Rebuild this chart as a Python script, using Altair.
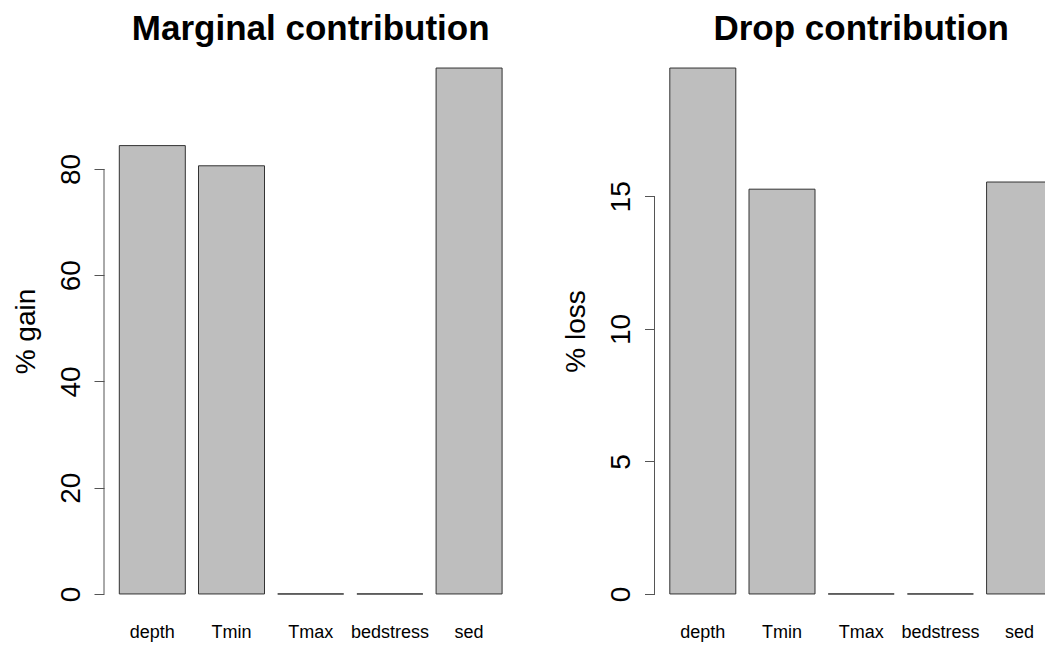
import altair as alt
import pandas as pd

# ---- data ----
variables = ["depth", "Tmin", "Tmax", "bedstress", "sed"]
marginal_gain = [84.4, 80.6, 0.0, 0.0, 99.0]
drop_loss = [19.84, 15.27, 0.0, 0.0, 15.54]
gain_ticks = [0, 20, 40, 60, 80]
loss_ticks = [0, 5, 10, 15]

FONT = "Liberation Sans"
PANEL_H = 568
RANGE_W = 413.4          # full width of the R plot region
LEFT_W = 413.4
RIGHT_W = 390.5          # right panel is cut by the image edge
PAD_INNER = 0.2 / 1.2
PAD_OUTER = 0.19333


def panel(values, ticks, title, ytitle, width, dx):
    df = pd.DataFrame({"var": variables, "value": values})
    vmax = max(values)
    yscale = alt.Scale(domain=[-0.04 * vmax, 1.04 * vmax], nice=False, zero=False)
    xscale = alt.Scale(domain=variables, paddingInner=PAD_INNER,
                       paddingOuter=PAD_OUTER, range=[0, RANGE_W])
    bars = alt.Chart(df).mark_bar(
        fill="#BEBEBE", stroke="#333333", strokeWidth=1, clip=True
    ).encode(
        x=alt.X("var:N", scale=xscale, sort=variables, axis=None),
        y=alt.Y("value:Q", scale=yscale,
                axis=alt.Axis(title=ytitle, values=ticks, domain=False, grid=False,
                              tickSize=10, tickColor="#555555", tickWidth=1,
                              labelAngle=270, labelAlign="center",
                              labelBaseline="alphabetic", labelPadding=15,
                              labelFontSize=28, labelFont=FONT, labelColor="black",
                              titleFontSize=28, titleFont=FONT,
                              titleFontWeight="normal", titleAngle=270,
                              titleBaseline="alphabetic", titleAlign="center",
                              titleX=-70, titleColor="black")),
        y2=alt.datum(0),
    )
    names = alt.Chart(df).mark_text(
        baseline="alphabetic", align="center", fontSize=18, font=FONT, color="black"
    ).encode(
        x=alt.X("var:N", sort=variables, axis=None),
        y=alt.value(PANEL_H + 23),
        text="var:N",
    )
    axis_line = alt.Chart(pd.DataFrame({"a": [0]})).mark_rule(
        color="#555555", strokeWidth=1
    ).encode(x=alt.value(0), y=alt.datum(ticks[0]), y2=alt.datum(ticks[-1]))
    return alt.layer(axis_line, bars, names).properties(
        width=width, height=PANEL_H,
        title=alt.TitleParams(text=title, fontSize=35, fontWeight="bold", font=FONT,
                              anchor="middle", offset=0, color="black", dx=dx),
    )


left = panel(marginal_gain, gain_ticks, "Marginal contribution", "% gain", LEFT_W, 0)
right = panel(drop_loss, loss_ticks, "Drop contribution", "% loss", RIGHT_W,
              (RANGE_W - RIGHT_W) / 2)

chart = alt.hconcat(left, right, spacing=44.5).properties(
    padding={"left": 4, "top": 4, "right": 0, "bottom": 0},
    background="white",
).configure_view(stroke=None)

chart.save("out.html", embed_options={"renderer": "svg", "actions": False})
